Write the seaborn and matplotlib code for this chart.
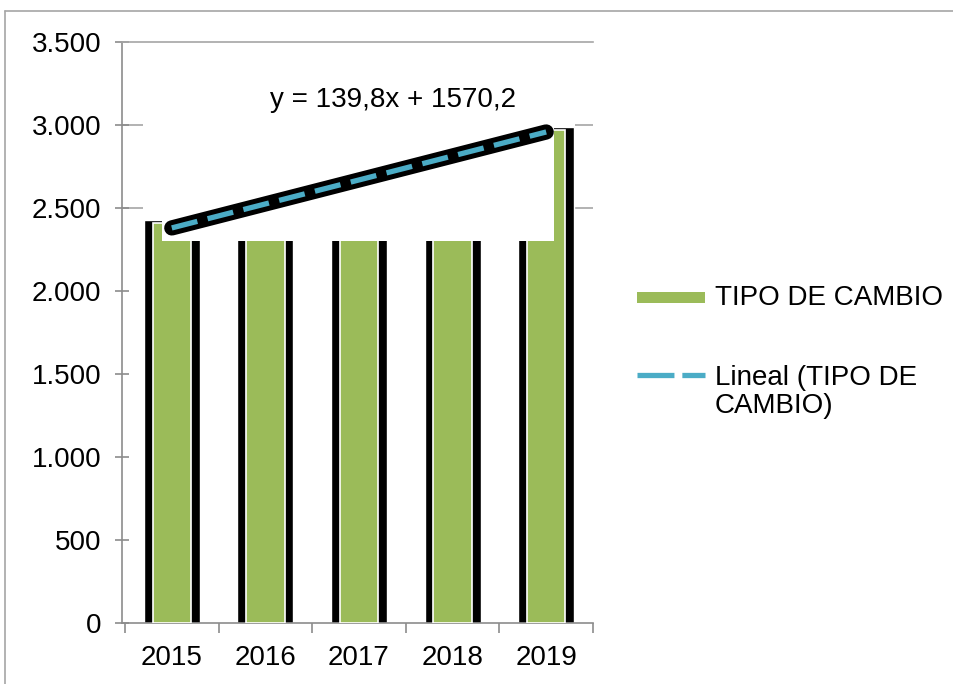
import numpy as np
import pandas as pd
import matplotlib
matplotlib.use("Agg")
import matplotlib.pyplot as plt
import seaborn as sns
from matplotlib.patches import Rectangle
from matplotlib.lines import Line2D
from matplotlib.ticker import FuncFormatter, MultipleLocator, FixedLocator

# ---- data ----
years = ["2015", "2016", "2017", "2018", "2019"]
tipo_cambio = [2410, 2490, 2660, 2815, 2970]
equation_label = "y = 139,8x + 1570,2"
series_label = "TIPO DE CAMBIO"
trend_label = "Lineal (TIPO DE\nCAMBIO)"

sns.set_style("white")
plt.rcParams["font.family"] = ["Liberation Sans", "DejaVu Sans"]
plt.rcParams["text.color"] = "black"
plt.rcParams["xtick.labelcolor"] = "black"
plt.rcParams["ytick.labelcolor"] = "black"

W, H = 954, 684
FS = 20
fig = plt.figure(figsize=(W / 100, H / 100), dpi=100)
ax = fig.add_axes([122 / W, (H - 623) / H, 471 / W, 581 / H])

df = pd.DataFrame({"year": years, "value": tipo_cambio})
df["shadow"] = df["value"] + 18

green = "#9BBB59"
blue = "#4BACC6"
grey = "#A6A6A6"
axis_grey = "#8C8C8C"

# black glow/shadow bars behind
sns.barplot(data=df, x="year", y="shadow", color="black", saturation=1,
            width=0.6, ax=ax)
n_shadow = len(ax.patches)
sns.barplot(data=df, x="year", y="value", color=green, saturation=1,
            width=0.41, edgecolor="white", linewidth=1.2, ax=ax)
for i, p in enumerate(ax.patches):
    p.set_zorder(2 if i < n_shadow else 3)

ax.set_xlim(-0.532, 4.5)
ax.set_ylim(0, 3500)

# gridlines
for yv in [2500, 3000]:
    ax.axhline(yv, color=grey, lw=1.2, zorder=0.5)

# white covering boxes (label background)
ax.add_patch(Rectangle((-0.31, 2300), 4.31 + 0.31, 1165,
                       facecolor="white", edgecolor="none", zorder=1))
ax.add_patch(Rectangle((-0.1, 2300), 4.08 + 0.1, 1165,
                       facecolor="white", edgecolor="none", zorder=4))

# linear trendline
xpos = np.arange(len(years))
coef = np.polyfit(xpos, tipo_cambio, 1)
trend = np.polyval(coef, xpos)
ax.plot(xpos, trend, color="black", lw=11, solid_capstyle="round", zorder=5)
ax.plot(xpos, trend, color=blue, lw=3.8, dashes=(5, 2),
        dash_capstyle="butt", zorder=6)

ax.text((393 - 122) / 471, 3150, equation_label, transform=ax.get_yaxis_transform(),
        ha="center", va="center", fontsize=FS, color="black", zorder=7)

# axes styling
ax.spines["right"].set_visible(False)
ax.spines["top"].set_color(grey)
ax.spines["top"].set_linewidth(1.2)
for s in ["left", "bottom"]:
    ax.spines[s].set_color(axis_grey)
    ax.spines[s].set_linewidth(1.2)

ax.yaxis.set_major_locator(MultipleLocator(500))
ax.yaxis.set_major_formatter(FuncFormatter(lambda v, p: f"{int(v):,}".replace(",", ".")))
ax.tick_params(axis="y", direction="inout", length=10, width=1.2, color=axis_grey,
               labelsize=FS, pad=10, left=True, labelcolor="black")
ax.xaxis.set_minor_locator(FixedLocator(np.arange(-0.5, 5, 1.0)))
ax.tick_params(axis="x", which="major", length=0, labelsize=FS, pad=16, labelcolor="black")
ax.tick_params(axis="x", which="minor", direction="out", length=7, width=1.2,
               color=axis_grey, bottom=True)
ax.set_xlabel("")
ax.set_ylabel("")
ax.grid(False)

# legend (manual)
fig.add_artist(Rectangle((637 / W, (H - 303) / H), 68 / W, 11 / H,
                         transform=fig.transFigure, facecolor=green, edgecolor="none"))
fig.text(715 / W, (H - 298) / H, series_label, fontsize=FS, va="center", ha="left",
         color="black")
fig.add_artist(Line2D([637 / W, 705 / W], [(H - 375) / H] * 2, transform=fig.transFigure,
                      color=blue, lw=3.8, dashes=(7, 1.5), dash_capstyle="butt"))
fig.text(715 / W, (H - 392) / H, trend_label, fontsize=FS, va="center", ha="left",
         linespacing=1.1, color="black")

# chart-area border
fig.add_artist(Line2D([5 / W, 5 / W], [0, (H - 11) / H], transform=fig.transFigure,
                      color=grey, lw=1.2))
fig.add_artist(Line2D([5 / W, 1], [(H - 11) / H] * 2, transform=fig.transFigure,
                      color=grey, lw=1.2))

fig.savefig("out.png", dpi=100)
